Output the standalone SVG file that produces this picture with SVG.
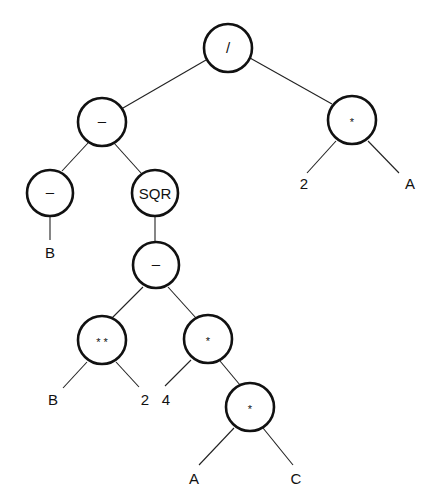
<svg xmlns="http://www.w3.org/2000/svg" width="445" height="503" viewBox="0 0 445 503">
<style>
.node circle{fill:#fff;stroke:#111;stroke-width:2.6}
.edges line{stroke:#222;stroke-width:1.1}
text{font-family:"Liberation Sans",Arial,sans-serif;fill:#111;text-anchor:middle}
.lab{font-size:15px}
.op{font-size:15px}
.ast{font-size:11px}
</style>
<rect width="445" height="503" fill="#fff"/>
<g class="edges">
<line x1="206" y1="60" x2="123" y2="108"/>
<line x1="250" y1="58" x2="332" y2="104"/>
<line x1="336" y1="141" x2="307" y2="173"/>
<line x1="368" y1="141" x2="399" y2="173"/>
<line x1="88" y1="143" x2="62" y2="171"/>
<line x1="114" y1="143" x2="141" y2="173"/>
<line x1="50" y1="216" x2="50" y2="240"/>
<line x1="155" y1="216" x2="155" y2="242"/>
<line x1="143" y1="287" x2="112" y2="318"/>
<line x1="168" y1="287" x2="196" y2="318"/>
<line x1="87" y1="362" x2="63" y2="388"/>
<line x1="116" y1="362" x2="139" y2="387"/>
<line x1="191" y1="360" x2="165" y2="386"/>
<line x1="220" y1="361" x2="240" y2="385"/>
<line x1="234" y1="428" x2="199" y2="465"/>
<line x1="263" y1="428" x2="293" y2="465"/>
</g>
<g id="n-div" class="node"><circle cx="228" cy="48" r="24"/><text class="op" x="228" y="53">/</text></g>
<g id="n-mul1" class="node"><circle cx="352" cy="120" r="24"/><text class="ast" x="352" y="126">*</text></g>
<g id="n-sub1" class="node"><circle cx="102" cy="122" r="24"/><text class="op" x="102" y="126">–</text></g>
<g id="n-neg" class="node"><circle cx="50" cy="193" r="23"/><text class="op" x="50" y="197">–</text></g>
<g id="n-sqr" class="node"><circle cx="155" cy="193" r="23"/><text class="lab" x="155" y="199">SQR</text></g>
<g id="n-sub2" class="node"><circle cx="156" cy="265" r="23"/><text class="op" x="156" y="269">–</text></g>
<g id="n-pow" class="node"><circle cx="102" cy="340" r="24"/><text class="ast" x="102" y="346">* *</text></g>
<g id="n-mul2" class="node"><circle cx="208" cy="339" r="24"/><text class="ast" x="208" y="345">*</text></g>
<g id="n-mul3" class="node"><circle cx="250" cy="407" r="24"/><text class="ast" x="250" y="413">*</text></g>
<g id="leaves">
<text class="lab" x="304" y="189">2</text>
<text class="lab" x="410" y="189">A</text>
<text class="lab" x="50" y="258">B</text>
<text class="lab" x="53" y="405">B</text>
<text class="lab" x="145" y="405">2</text>
<text class="lab" x="166" y="405">4</text>
<text class="lab" x="194" y="484">A</text>
<text class="lab" x="296" y="484">C</text>
</g>
</svg>
